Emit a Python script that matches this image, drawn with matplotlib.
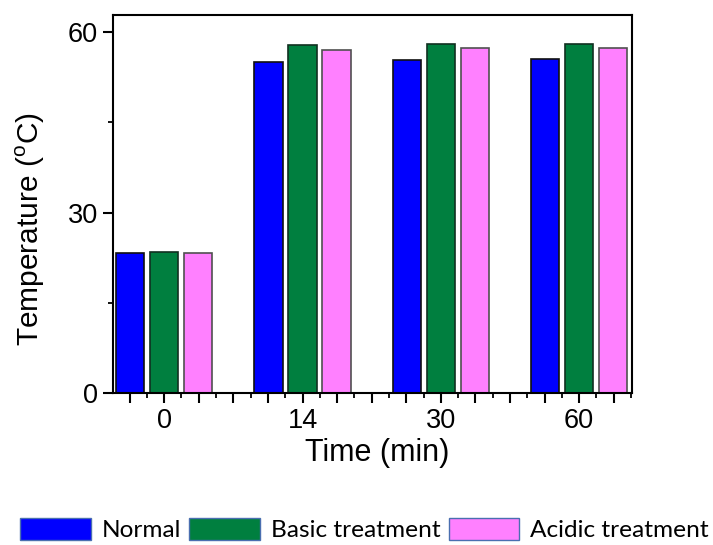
import matplotlib
matplotlib.use("Agg")
import matplotlib.pyplot as plt
import numpy as np
from matplotlib.ticker import MultipleLocator, FixedLocator
from matplotlib.patches import Patch

plt.rcParams['font.family'] = ['Liberation Sans', 'DejaVu Sans']
plt.rcParams['mathtext.fontset'] = 'custom'
plt.rcParams['mathtext.rm'] = 'Liberation Sans'

categories = ['0', '14', '30', '60']
series_names = ['Normal', 'Basic treatment', 'Acidic treatment']
normal = [23.3, 55.0, 55.4, 55.6]
basic = [23.5, 57.8, 58.1, 58.1]
acidic = [23.3, 57.0, 57.3, 57.3]
colors = ['#0000FF', '#007F3F', '#FF80FF']
edges = ['#101010', '#103020', '#505050']

fig = plt.figure(figsize=(7.13, 5.45), dpi=100)
ax = fig.add_axes([0.1585, 0.279, 0.7275, 0.693])

x = np.arange(len(categories))
offs = [-0.245, 0.0, 0.245]
for vals, off, c, ec, name in zip([normal, basic, acidic], offs, colors, edges, series_names):
    ax.bar(x + off, vals, width=0.205, color=c, edgecolor=ec, linewidth=1.2, label=name)

ax.set_xlim(-0.37, 3.38)
ax.set_ylim(0, 62.8)
major_pos = np.arange(-0.25, 3.3, 0.25)
ax.xaxis.set_major_locator(FixedLocator(major_pos))
lab_map = {i: c for i, c in enumerate(categories)}
ax.set_xticklabels([lab_map.get(int(round(p)), '') if abs(p - round(p)) < 1e-6 else '' for p in major_pos])
ax.xaxis.set_minor_locator(FixedLocator(np.arange(-0.375, 3.4, 0.25)))
ax.set_yticks([0, 30, 60])
ax.yaxis.set_minor_locator(MultipleLocator(15))

ax.tick_params(axis='both', which='major', direction='out', length=7, width=1.5, labelsize=19.5, pad=4)
ax.tick_params(axis='both', which='minor', direction='out', length=3.5, width=1.3)
for s in ax.spines.values():
    s.set_linewidth(1.5)

ax.set_xlabel('Time (min)', fontsize=22)
ax.xaxis.set_label_coords(0.51, -0.12)
ax.set_ylabel('Temperature ($^\\mathrm{o}$C)', fontsize=21.5)
ax.yaxis.set_label_coords(-0.128, 0.435)

handles = [Patch(facecolor=c, edgecolor='#4a6fb0', linewidth=1.0, label=n)
           for c, n in zip(colors, series_names)]
leg = fig.legend(handles=handles, loc='center', bbox_to_anchor=(0.511, 0.028), ncol=3, frameon=False,
                 prop={'family': 'Lato', 'size': 17.6}, handlelength=2.9, handleheight=1.0,
                 handletextpad=0.45, columnspacing=0.33)

fig.savefig('out.png', dpi=100)
